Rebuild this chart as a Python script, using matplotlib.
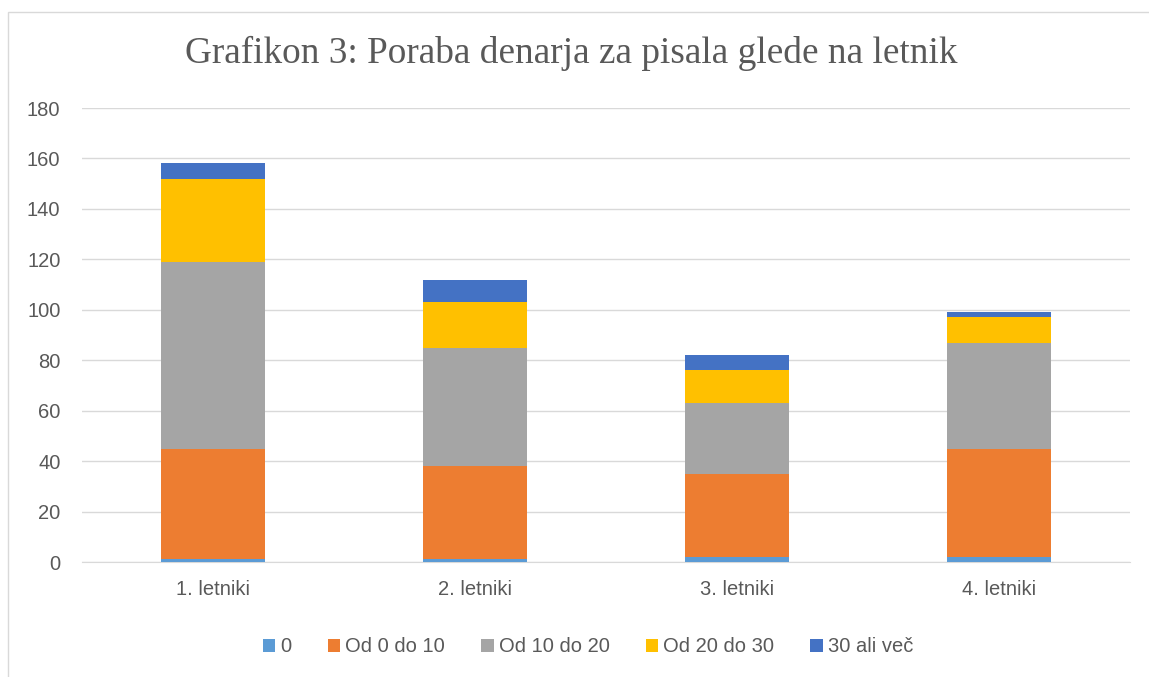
import matplotlib.pyplot as plt
import numpy as np
from matplotlib.patches import Rectangle

# data
categories = ["1. letniki", "2. letniki", "3. letniki", "4. letniki"]
series_names = ["0", "Od 0 do 10", "Od 10 do 20", "Od 20 do 30", "30 ali več"]
s_0 = [1, 1, 2, 2]
s_0_10 = [44, 37, 33, 43]
s_10_20 = [74, 47, 28, 42]
s_20_30 = [33, 18, 13, 10]
s_30_plus = [6, 9, 6, 2]
colors = ["#5B9BD5", "#ED7D31", "#A5A5A5", "#FFC000", "#4472C4"]

W, H = 1149, 677
fig = plt.figure(figsize=(W / 100, H / 100), dpi=100)
ax = fig.add_axes([82 / W, 1 - 562 / H, 1048 / W, 454 / H])

# outer chart border
fig.patches.append(Rectangle((8 / W, -0.01), 1.1, 1 - 12 / H + 0.01, transform=fig.transFigure,
                             fill=False, edgecolor="#D9D9D9", linewidth=1))

x = np.arange(len(categories))
bottom = np.zeros(len(categories))
for name, vals, c in zip(series_names, [s_0, s_0_10, s_10_20, s_20_30, s_30_plus], colors):
    ax.bar(x, vals, width=0.40, bottom=bottom, color=c, label=name, zorder=3)
    bottom += np.array(vals)

ax.set_xlim(-0.5, 3.5)
ax.set_ylim(0, 180)
ax.set_yticks(range(0, 181, 20))
ax.set_xticks(x)
ax.set_xticklabels(categories)
ax.yaxis.grid(True, color="#D9D9D9", linewidth=1, zorder=0)
for s in ["top", "right", "left"]:
    ax.spines[s].set_visible(False)
ax.spines["bottom"].set_color("#D9D9D9")
ax.tick_params(length=0, labelsize=14.5, labelcolor="#595959")
ax.tick_params(axis="y", pad=15.5)
ax.tick_params(axis="x", pad=13)
for lab in ax.get_xticklabels() + ax.get_yticklabels():
    lab.set_family("Liberation Sans")

fig.text(571 / W, 1 - 53 / H, "Grafikon 3: Poraba denarja za pisala glede na letnik",
         ha="center", va="center", fontsize=26.8, family="Liberation Serif", color="#595959")

leg = fig.legend(loc="center", bbox_to_anchor=(588 / W, 1 - 647 / H), ncol=5, frameon=False,
                 handlelength=0.62, handleheight=0.62, handletextpad=0.25, columnspacing=1.8,
                 prop={"family": "Liberation Sans", "size": 14.5})
for t in leg.get_texts():
    t.set_color("#595959")

fig.savefig("out.png", dpi=100)
